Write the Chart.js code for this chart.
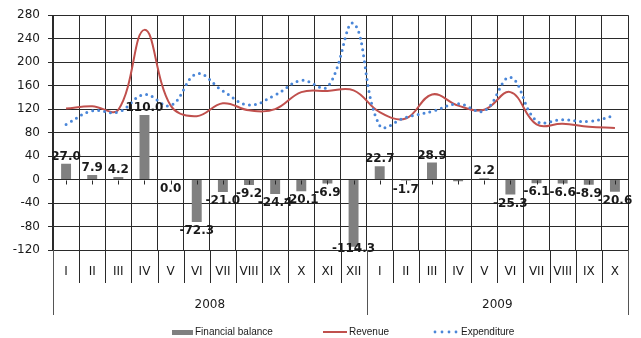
<!DOCTYPE html>
<html>
<head>
<meta charset="utf-8">
<script src="https://cdn.jsdelivr.net/npm/chart.js@4.4.1/dist/chart.umd.min.js"></script>
<style>
  html, body { margin: 0; padding: 0; background: #fff; }
  canvas { display: block; }
</style>
</head>
<body>
<canvas id="c" width="641" height="338"></canvas>
<script>
const months = ['I','II','III','IV','V','VI','VII','VIII','IX','X','XI','XII','I','II','III','IV','V','VI','VII','VIII','IX','X'];
const years = ['2008', '2009'];
const yearSpans = [12, 10];
const balance = [27.0, 7.9, 4.2, 110.0, 0.0, -72.3, -21.0, -9.2, -24.4, -20.1, -6.9, -114.3, 22.7, -1.7, 28.9, -3.0, 2.2, -25.3, -6.1, -6.6, -8.9, -20.6];
const balanceLabelShown = [true,true,true,true,true,true,true,true,true,true,true,true,true,true,true,false,true,true,true,true,true,true];
const revenue = [121, 125, 119, 255, 126, 108, 130, 118, 120, 149, 151, 152, 115, 104, 145, 126, 119, 149, 94, 95, 90, 88];
const expenditure = [94, 117, 115, 145, 126, 180, 151, 127, 144, 169, 158, 266, 92, 106, 116, 129, 117, 174, 100, 102, 99, 109];
const yMin = -120, yMax = 280, yStep = 40;

const LINE = '#2a2a2a';
const TXT = '#1a1a1a';
const FONT = '"DejaVu Sans", sans-serif';

const labelPlugin = {
  id: 'barLabels',
  afterDatasetsDraw(chart) {
    const ctx = chart.ctx;
    const meta = chart.getDatasetMeta(0);
    const ca = chart.chartArea;
    ctx.save();
    ctx.font = 'bold 12px ' + FONT;
    ctx.fillStyle = TXT;
    ctx.textAlign = 'center';
    meta.data.forEach((bar, i) => {
      if (!balanceLabelShown[i]) return;
      const v = balance[i];
      const t = v.toFixed(1);
      if (v > 0) {
        ctx.textBaseline = 'bottom';
        ctx.fillText(t, bar.x, bar.y - 1);
      } else {
        ctx.textBaseline = 'top';
        ctx.fillText(t, bar.x, Math.min(bar.y + 3, ca.bottom - 7));
      }
    });
    ctx.restore();
  }
};

const decoPlugin = {
  id: 'deco',
  afterDraw(chart) {
    const ctx = chart.ctx;
    const ca = chart.chartArea;
    const xs = chart.scales.x;
    const ys = chart.scales.y;
    const n = months.length;
    const w = ca.width / n;
    ctx.save();
    // zero-line category ticks
    const y0 = Math.round(ys.getPixelForValue(0)) + 0.5;
    ctx.strokeStyle = LINE;
    ctx.lineWidth = 1;
    for (let i = 0; i < n; i++) {
      const x = Math.round(xs.getPixelForValue(i)) + 0.5;
      ctx.beginPath(); ctx.moveTo(x, y0); ctx.lineTo(x, y0 + 4); ctx.stroke();
    }
    // separators below the axis
    const longIdx = [0];
    let acc = 0;
    yearSpans.forEach(s => { acc += s; longIdx.push(acc); });
    for (let i = 0; i <= n; i++) {
      const x = Math.round(ca.left + i * w) + 0.5;
      const isLong = longIdx.includes(i);
      ctx.strokeStyle = isLong ? '#555' : LINE;
      ctx.beginPath();
      ctx.moveTo(x, ca.bottom);
      ctx.lineTo(x, isLong ? 315 : 283);
      ctx.stroke();
    }
    // year labels
    ctx.font = '12px ' + FONT;
    ctx.fillStyle = TXT;
    ctx.textAlign = 'center';
    ctx.textBaseline = 'middle';
    let start = 0;
    years.forEach((y, k) => {
      const x0 = ca.left + start * w;
      const x1 = ca.left + (start + yearSpans[k]) * w;
      ctx.fillText(y, (x0 + x1) / 2, 305);
      start += yearSpans[k];
    });
    // legend
    const ds = chart.data.datasets;
    const ly = 332;
    ctx.font = '10px "Liberation Sans", sans-serif';
    ctx.textAlign = 'left';
    ctx.fillStyle = ds[0].backgroundColor;
    ctx.fillRect(172, 330, 21, 5);
    ctx.fillStyle = TXT;
    ctx.fillText(ds[0].label, 195, ly);
    ctx.strokeStyle = ds[1].borderColor;
    ctx.lineWidth = 2;
    ctx.beginPath(); ctx.moveTo(323, ly); ctx.lineTo(347, ly); ctx.stroke();
    ctx.fillText(ds[1].label, 349, ly);
    ctx.fillStyle = ds[2].borderColor;
    for (let k = 0; k < 4; k++) {
      ctx.beginPath(); ctx.arc(435 + k * 7, ly, 1.4, 0, Math.PI * 2); ctx.fill();
    }
    ctx.fillStyle = TXT;
    ctx.fillText(ds[2].label, 461, ly);
    ctx.restore();
  }
};

new Chart(document.getElementById('c'), {
  type: 'bar',
  data: {
    labels: months,
    datasets: [
      { type: 'bar', label: 'Financial balance', data: balance, backgroundColor: '#808080',
        barPercentage: 0.38, categoryPercentage: 1, order: 3 },
      { type: 'line', label: 'Revenue', data: revenue, borderColor: '#c0504d', borderWidth: 2,
        pointRadius: 0, tension: 0.4, fill: false, order: 2 },
      { type: 'line', label: 'Expenditure', data: expenditure, borderColor: '#4a86d8', borderWidth: 3,
        borderDash: [0, 6], borderCapStyle: 'round', pointRadius: 0, tension: 0.4, fill: false, order: 1 }
    ]
  },
  options: {
    responsive: false,
    animation: false,
    devicePixelRatio: 1,
    layout: { padding: { left: 0, right: 13, top: 13, bottom: 0 } },
    plugins: { legend: { display: false }, tooltip: { enabled: false } },
    scales: {
      x: {
        grid: { color: LINE, offset: true, drawTicks: false },
        border: { color: LINE },
        ticks: { color: TXT, font: { family: FONT, size: 12 }, padding: 15, autoSkip: false, maxRotation: 0 },
        afterFit(s) { s.height = 88; }
      },
      y: {
        min: yMin, max: yMax,
        ticks: { stepSize: yStep, color: TXT, font: { family: FONT, size: 12 }, padding: 8 },
        grid: { color: LINE, tickLength: 5 },
        border: { color: LINE },
        afterFit(s) { s.width = 53; }
      }
    }
  },
  plugins: [labelPlugin, decoPlugin]
});
</script>
</body>
</html>
